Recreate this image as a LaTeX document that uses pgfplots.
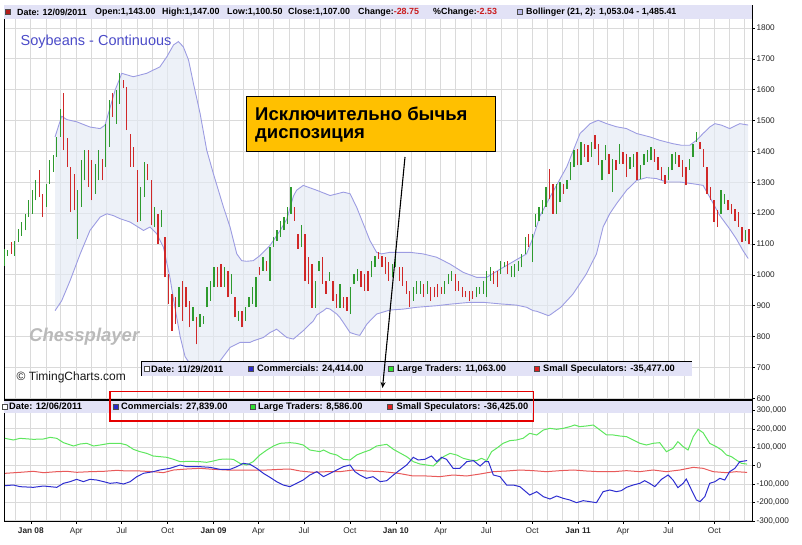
\documentclass[border=0pt]{standalone}
\usepackage{fontspec}
\setmainfont{Liberation Sans}
\usepackage{pgfplots}
\pgfplotsset{compat=1.18}
\usepackage{pgfplotstable}
\usepgfplotslibrary{fillbetween}
\usetikzlibrary{arrows.meta}
\newcommand{\fs}[1]{\fontsize{#1}{#1}\selectfont}
\definecolor{strip}{HTML}{E2E2F6}
\definecolor{gridc}{HTML}{DADADA}
\definecolor{barup}{HTML}{2E9A2E}
\definecolor{bardn}{HTML}{D02828}
\definecolor{bandline}{HTML}{9C9CE2}
\definecolor{bandfill}{HTML}{E4EAF4}
\definecolor{lgreen}{HTML}{5EE65E}
\definecolor{lblue}{HTML}{2E2ED0}
\definecolor{lred}{HTML}{E85A5A}
\definecolor{titleblue}{HTML}{4B4BC8}
\definecolor{annoyellow}{HTML}{FFC000}
\definecolor{sqblue}{HTML}{2828C8}
\definecolor{sqgreen}{HTML}{30E030}
\definecolor{sqred}{HTML}{E02020}

% weekly bars: k = week index (k=0 : 9 Nov 2007, k=213 : 9 Dec 2011)
\pgfplotstableread{
k lo hi
0 1030 1084
1 1062 1081
3 1062 1111
4 1106 1149
5 1127 1171
6 1144 1198
7 1187 1241
8 1198 1274
9 1241 1306
12 1220 1295
13 1295 1371
14 1333 1387
15 1382 1447
16 1447 1539
21 1117 1274
22 1220 1371
23 1306 1404
26 1263 1360
27 1306 1404
29 1349 1490
30 1414 1566
32 1490 1599
33 1555 1653
39 1176 1285
40 1252 1366
43 1155 1220
45 1155 1209
50 895 960
54 851 895
56 830 873
57 840 868
58 895 960
59 916 981
60 960 1025
63 960 1025
65 938 1003
67 851 884
69 851 895
70 895 927
71 905 960
72 895 992
74 1014 1057
76 981 1090
77 1090 1122
78 1111 1144
79 1122 1176
80 1144 1187
81 1165 1220
82 1198 1285
85 1090 1160
89 894 981
90 1014 1046
93 981 1008
96 894 970
99 873 960
100 970 1003
101 981 1019
105 992 1046
106 1025 1062
111 992 1035
112 1024 1079
117 916 960
118 938 981
119 938 981
121 938 981
126 938 981
127 970 1003
128 981 1014
135 927 960
136 938 960
137 938 981
138 927 1014
139 981 1024
142 1003 1046
143 1024 1041
145 992 1030
146 992 1035
147 1014 1046
148 1024 1068
149 1068 1122
151 1041 1133
152 1155 1198
153 1176 1220
154 1198 1241
155 1220 1284
158 1198 1295
159 1236 1301
161 1279 1306
162 1306 1366
163 1349 1404
165 1355 1431
168 1382 1431
171 1306 1371
172 1371 1420
174 1268 1377
176 1360 1425
179 1344 1382
180 1349 1393
182 1312 1355
183 1355 1393
184 1366 1404
185 1371 1414
190 1306 1349
191 1339 1393
192 1360 1398
196 1339 1377
197 1382 1425
198 1431 1463
205 1198 1274
206 1230 1263
212 1111 1144
}\upbars
\pgfplotstableread{
k lo hi
2 1068 1106
10 1252 1339
11 1187 1263
17 1404 1588
18 1349 1442
19 1203 1349
20 1209 1328
24 1284 1404
25 1241 1371
28 1306 1377
31 1512 1588
34 1604 1631
35 1469 1609
36 1349 1458
37 1349 1414
38 1171 1339
41 1306 1360
42 1160 1306
44 1100 1198
46 992 1122
47 905 1003
48 819 938
49 840 927
51 851 981
52 895 960
53 830 916
55 775 862
61 960 1025
62 960 1035
64 927 1014
66 862 927
68 830 884
73 998 1025
75 1014 1046
83 1176 1220
84 1084 1133
86 981 1133
87 970 1057
88 894 1035
91 970 1057
92 938 981
94 916 981
95 894 938
97 894 927
98 884 927
102 960 1014
103 949 1003
104 949 1014
107 1052 1073
108 1025 1062
109 1003 1057
110 981 1041
113 981 1024
114 965 1024
115 938 981
116 895 949
120 927 970
122 916 960
123 927 960
124 927 970
125 938 960
129 949 1003
130 949 981
131 927 960
132 927 949
133 916 949
134 922 949
140 970 1014
141 960 1014
144 1003 1046
150 1090 1133
156 1247 1344
157 1198 1295
160 1263 1295
164 1355 1409
166 1382 1425
167 1366 1420
169 1409 1452
170 1355 1425
173 1328 1393
175 1339 1371
177 1360 1398
178 1317 1393
181 1306 1398
186 1366 1409
187 1339 1382
188 1306 1349
189 1295 1322
193 1349 1387
194 1317 1371
195 1290 1349
199 1409 1431
200 1349 1409
201 1263 1349
202 1241 1285
203 1171 1241
204 1155 1209
207 1209 1241
208 1198 1230
209 1176 1214
210 1155 1203
211 1106 1155
213 1100.5 1147
}\dnbars

\def\months{3.143,7.571,12,16.143,20.571,24.857,29.286,33.571,38,42.429,46.714,51.143,55.429,59.857,64.286,68.286,72.714,77,81.429,85.714,90.143,94.571,98.857,103.286,107.571,112,116.429,120.429,124.857,129.143,133.571,137.857,142.286,146.714,151,155.429,159.714,164.143,168.571,172.571,177,181.286,185.714,190,194.429,198.857,203.143,207.571,211.857}

\begin{document}
\begin{tikzpicture}[x=1pt,y=1pt]

% ---------------- price panel ----------------
\begin{axis}[
  at={(4pt,145pt)}, anchor=south west, scale only axis,
  width=748pt, height=395pt,
  xmin=-0.1, xmax=213.9, ymin=594.5, ymax=1874.5,
  axis line style={black, line width=0.8pt},
  tick align=outside, major tick length=3pt,
  xtick/.expanded={\months}, xticklabels={}, xtick style={draw=none},
  ytick={600,700,...,1800},
  yticklabels={600,700,800,900,1000,1100,1200,1300,1400,1500,1600,1700,1800},
  ytick pos=right, yticklabel pos=right,
  ytick style={black, line width=0.6pt},
  yticklabel style={font=\fs{8.2}, text=black!85, xshift=-2pt},
  xmajorgrids, ymajorgrids, grid style={gridc, line width=0.9pt},
]
\addplot[draw=none, name path=bbup] coordinates {
(14.5,1447) (16.4,1514) (17.9,1503) (20.7,1496) (24.5,1479) (27.4,1474) (28.8,1485)
(30.3,1544) (31.7,1599) (33.6,1653) (36.9,1642) (40.7,1653) (44.5,1674) (46.5,1707)
(48.4,1745) (49.8,1756) (51.2,1739) (52.7,1696) (54.1,1620) (56.0,1523) (57.9,1404)
(59.8,1328) (62.7,1219) (64.6,1154) (66.5,1068) (67.9,1046) (69.3,1044) (71.2,1046)
(73.1,1062) (76,1095) (78.9,1144) (80.8,1180) (82.7,1255) (83.6,1274) (85.5,1290)
(89.4,1274) (93.2,1257) (97,1268) (98.9,1263) (100.8,1219) (102.7,1165) (104.6,1111)
(106.5,1073) (107.9,1068) (110.3,1073) (112.2,1073) (116,1073) (119.8,1068)
(123.7,1057) (127.5,1035) (131.3,1008) (135.1,992) (138,992) (141.8,1018)
(146.5,1049) (149.4,1068) (151.3,1122) (153.2,1190) (156.1,1252) (160.9,1350)
(164.7,1458) (167.6,1490) (169.9,1501) (172.3,1490) (175.1,1480) (178,1474)
(180.9,1458) (184.7,1447) (187.5,1436) (191.3,1425) (193.7,1420) (196.1,1420)
(198,1436) (199.9,1458) (201.8,1479) (203.3,1490) (205.2,1485) (207.5,1474)
(210.4,1490) (212.8,1485.41)};
\addplot[draw=none, name path=bblo] coordinates {
(14.5,884) (16.4,916) (18.8,981) (21.7,1068) (24.5,1144) (27.4,1187) (29.3,1198)
(31.2,1192) (33.1,1182) (36,1171) (39.8,1144) (41.7,1155) (43.6,1133) (45.5,1090)
(47.4,990) (48.4,920) (50.3,800) (51.7,735) (53.5,705) (55.5,688) (57.5,685)
(59.5,700) (61.7,721) (64.6,765) (67.4,781) (70.3,781) (71.2,786) (74.1,797)
(76,813) (77.9,824) (80.8,797) (82.7,792) (85.5,819) (88.4,851) (89.4,870)
(91.3,884) (92.2,892) (93.2,889) (95.1,873) (96,862) (97.9,830) (98.9,813)
(100.8,806) (101.7,804) (103.7,840) (104.6,851) (106.5,873) (110.3,886) (114.1,889)
(118,895) (123.7,900) (127.5,905) (133.2,911) (137,911) (141.8,906) (146.5,902)
(149.4,895) (151.3,884) (152.3,882) (155.6,868) (156.1,870) (159.2,895) (162.7,938)
(166.5,1003) (169.4,1068) (171.3,1155) (173.2,1198) (175.1,1230) (178,1274)
(180.9,1306) (183.7,1315) (186.6,1312) (189.4,1301) (193.2,1301) (197.1,1295)
(199.9,1290) (201.8,1252) (204.7,1192) (207.5,1149) (209.4,1117) (211.3,1079)
(212.8,1053.04)};
\addplot[fill=bandfill, fill opacity=0.65, draw=none] fill between[of=bbup and bblo];
\addplot[bandline, line width=0.9pt] coordinates {
(14.5,1447) (16.4,1514) (17.9,1503) (20.7,1496) (24.5,1479) (27.4,1474) (28.8,1485)
(30.3,1544) (31.7,1599) (33.6,1653) (36.9,1642) (40.7,1653) (44.5,1674) (46.5,1707)
(48.4,1745) (49.8,1756) (51.2,1739) (52.7,1696) (54.1,1620) (56.0,1523) (57.9,1404)
(59.8,1328) (62.7,1219) (64.6,1154) (66.5,1068) (67.9,1046) (69.3,1044) (71.2,1046)
(73.1,1062) (76,1095) (78.9,1144) (80.8,1180) (82.7,1255) (83.6,1274) (85.5,1290)
(89.4,1274) (93.2,1257) (97,1268) (98.9,1263) (100.8,1219) (102.7,1165) (104.6,1111)
(106.5,1073) (107.9,1068) (110.3,1073) (112.2,1073) (116,1073) (119.8,1068)
(123.7,1057) (127.5,1035) (131.3,1008) (135.1,992) (138,992) (141.8,1018)
(146.5,1049) (149.4,1068) (151.3,1122) (153.2,1190) (156.1,1252) (160.9,1350)
(164.7,1458) (167.6,1490) (169.9,1501) (172.3,1490) (175.1,1480) (178,1474)
(180.9,1458) (184.7,1447) (187.5,1436) (191.3,1425) (193.7,1420) (196.1,1420)
(198,1436) (199.9,1458) (201.8,1479) (203.3,1490) (205.2,1485) (207.5,1474)
(210.4,1490) (212.8,1485.41)};
\addplot[bandline, line width=0.9pt] coordinates {
(14.5,884) (16.4,916) (18.8,981) (21.7,1068) (24.5,1144) (27.4,1187) (29.3,1198)
(31.2,1192) (33.1,1182) (36,1171) (39.8,1144) (41.7,1155) (43.6,1133) (45.5,1090)
(47.4,990) (48.4,920) (50.3,800) (51.7,735) (53.5,705) (55.5,688) (57.5,685)
(59.5,700) (61.7,721) (64.6,765) (67.4,781) (70.3,781) (71.2,786) (74.1,797)
(76,813) (77.9,824) (80.8,797) (82.7,792) (85.5,819) (88.4,851) (89.4,870)
(91.3,884) (92.2,892) (93.2,889) (95.1,873) (96,862) (97.9,830) (98.9,813)
(100.8,806) (101.7,804) (103.7,840) (104.6,851) (106.5,873) (110.3,886) (114.1,889)
(118,895) (123.7,900) (127.5,905) (133.2,911) (137,911) (141.8,906) (146.5,902)
(149.4,895) (151.3,884) (152.3,882) (155.6,868) (156.1,870) (159.2,895) (162.7,938)
(166.5,1003) (169.4,1068) (171.3,1155) (173.2,1198) (175.1,1230) (178,1274)
(180.9,1306) (183.7,1315) (186.6,1312) (189.4,1301) (193.2,1301) (197.1,1295)
(199.9,1290) (201.8,1252) (204.7,1192) (207.5,1149) (209.4,1117) (211.3,1079)
(212.8,1053.04)};
\addplot[draw=none, mark=none,
  error bars/.cd, y dir=plus, y explicit, error mark=none,
  error bar style={draw=barup, line width=1.3pt}]
  table[x=k, y=lo, y error expr=\thisrow{hi}-\thisrow{lo}] {\upbars};
\addplot[draw=none, mark=none,
  error bars/.cd, y dir=plus, y explicit, error mark=none,
  error bar style={draw=bardn, line width=1.3pt}]
  table[x=k, y=lo, y error expr=\thisrow{hi}-\thisrow{lo}] {\dnbars};
\end{axis}

% ---------------- COT panel ----------------
\begin{axis}[
  at={(4pt,24pt)}, anchor=south west, scale only axis,
  width=748pt, height=121pt,
  xmin=-0.1, xmax=213.9, ymin=-300600, ymax=357100,
  axis line style={black, line width=0.8pt},
  tick align=outside, major tick length=3pt, minor tick length=0pt,
  xtick={7.571,20.571,33.571,46.714,59.857,72.714,85.714,98.857,112,124.857,137.857,151,164.143,177,190,203.143},
  xticklabels={\textbf{Jan 08},Apr,Jul,Oct,\textbf{Jan 09},Apr,Jul,Oct,\textbf{Jan 10},Apr,Jul,Oct,\textbf{Jan 11},Apr,Jul,Oct},
  minor xtick/.expanded={\months},
  xtick pos=left, ytick pos=right, yticklabel pos=right,
  ytick={-300000,-200000,-100000,0,100000,200000,300000},
  yticklabels={{-300,000},{-200,000},{-100,000},0,{100,000},{200,000},{300,000}},
  scaled y ticks=false,
  tick style={black, line width=0.6pt},
  xticklabel style={font=\fs{8.3}, text=black!85},
  yticklabel style={font=\fs{8.2}, text=black!85, xshift=-2pt},
  xmajorgrids, xminorgrids, ymajorgrids,
  grid style={gridc, line width=0.9pt}, minor grid style={gridc, line width=0.9pt},
]
\addplot[lgreen, line width=1pt] coordinates {
(0.2,148700) (2.6,139700) (4.5,148700) (8.3,143300) (11.2,145100) (13.1,154200) (15,148700)
(16.9,125200) (19.8,107100) (21.7,117900) (23.6,121600) (25.5,107100) (27.4,112500)
(30.2,121600) (33.1,121600) (35,112500) (36.9,89000) (38.8,76300) (40.7,67200)
(42.6,52700) (44.5,49100) (46.5,45500) (48.4,34600) (50.3,21900) (53.1,23700) (56,21900)
(57.9,18300) (59.8,25500) (61.7,34600) (63.6,36400) (65.5,34600) (67.4,12800) (69.3,3800)
(71.2,21900) (73.1,58100) (75.1,85300) (77,107100) (78.9,121600) (81.7,125200)
(83.6,121600) (85.5,112500) (87.4,85300) (90.3,76300) (91.3,85300) (93.2,67200)
(95.1,58100) (97,34600) (98.9,31000) (100.8,58100) (102.7,72600) (104.6,85300)
(106.5,107100) (109.4,116100) (111.3,89000) (113.2,69000) (115.1,49100) (117,21900)
(118.9,9200) (120.8,3800) (122.7,-1700) (124.1,21900) (125.6,49100) (127.5,67200)
(129.4,58100) (131.3,40000) (133.2,31000) (135.1,27300) (136.5,40000) (138,27300)
(139.4,76300) (140.8,94400) (142.7,121600) (144.6,136100) (146.5,139700) (148.4,148700)
(150.3,175900) (152.3,166900) (154.2,194000) (156.1,203100) (158,197700) (159.9,203100)
(161.8,212200) (163.2,221200) (164.6,212200) (166.5,215800) (168.5,221200) (170.4,194000)
(172.3,166900) (174.2,166900) (176.1,161400) (178,157800) (179.9,139700) (181.8,121600)
(183.7,112500) (185.6,121600) (187.5,125200) (189.4,76300) (191.3,94400) (192.7,130600)
(194.2,103400) (195.6,85300) (197.1,157800) (198.5,197700) (199.9,179500) (201.8,121600)
(203.7,103400) (205.2,85300) (206.6,58100) (208,49100) (209.4,31000) (210.9,12800)
(212.5,8586)};
\addplot[lred, line width=1pt] coordinates {
(0.2,-41500) (4.5,-36000) (8.3,-30600) (11.2,-37900) (15,-32500) (17.9,-30600)
(20.7,-36000) (24.5,-32500) (28.4,-30600) (32.2,-25200) (35,-28800) (38.8,-28800)
(42.6,-32500) (45.5,-37900) (48.4,-23400) (52.2,-18000) (56,-14300) (59.8,-19800)
(63.6,-23400) (67.4,-23400) (71.2,-23400) (75.1,-23400) (78.9,-19800) (81.7,-18000)
(84.6,-28800) (88.4,-36000) (92.2,-32500) (96,-32500) (99.8,-23400) (103.6,-28800)
(108.4,-32500) (112.7,-41500) (117,-56000) (120.8,-56000) (124.6,-59600) (128.4,-50600)
(132.3,-56000) (136.1,-45100) (139.9,-32500) (143.7,-28800) (147.5,-23400) (151.3,-27000)
(155.1,-32500) (159,-27000) (162.8,-23400) (166.5,-28800) (170.4,-32500) (174.2,-32500)
(178,-27000) (181.8,-32500) (185.6,-23400) (189.4,-32500) (193.3,-23400) (197.1,-8900)
(199.9,-14300) (202.8,-32500) (206.6,-37900) (209.4,-32500) (212.5,-36425)};
\addplot[lblue, line width=1pt] coordinates {
(0.2,-108600) (2.6,-105000) (4.5,-114000) (8.3,-117600) (11.2,-110400) (13.1,-114000)
(15,-117600) (16.9,-95900) (18.8,-86800) (20.7,-74100) (22.6,-86800) (24.5,-74100)
(26.4,-77800) (28.4,-86800) (30.2,-95900) (32.2,-92300) (34.1,-99500) (36,-86800)
(37.9,-59600) (39.8,-41500) (42.6,-32500) (44.5,-23400) (47.4,-14300) (50.3,3800)
(52.2,-5300) (54.1,-5300) (56,-5300) (58.8,-8900) (61.7,-19800) (64.6,-19800)
(66.5,-5300) (68.4,12800) (70.3,7400) (72.2,-14300) (74.1,-41500) (76,-63300)
(77.9,-86800) (79.8,-105000) (81.7,-114000) (83.6,-95900) (85.5,-77800) (87.4,-50600)
(89.4,-32500) (91.3,-59600) (93.2,-41500) (95.1,-23400) (97,-5300) (98.9,3800)
(100.3,-32500) (101.7,-50600) (103.6,-68700) (105.5,-59600) (107.5,-86800) (109.4,-81400)
(111.3,-50600) (112.7,-30000) (115.1,3800) (117,45500) (118.4,31000) (120.3,34600)
(122.2,52700) (123.7,21900) (125.1,45500) (126.5,34600) (128.4,-14300) (130.3,-14300)
(132.3,21900) (134.2,27300) (136.1,-1700) (137.5,21900) (138.5,21900) (139.9,-50600)
(141.8,-59600) (143.7,-105000) (145.6,-105000) (147.5,-114000) (150.3,-159300)
(152.3,-141200) (154.2,-168400) (156.1,-181000) (158,-164700) (159.9,-177400)
(161.8,-186500) (163.7,-201000) (165.6,-190100) (167.5,-195500) (169.4,-201000)
(171.3,-141200) (173.2,-132100) (175.1,-141200) (176.5,-135700) (178,-117600)
(179.9,-105000) (181.8,-95900) (183.2,-81400) (184.6,-95900) (186.1,-114000)
(188,-74100) (189.9,-50600) (191.3,-77800) (192.7,-119400) (194.2,-95900) (195.1,-72300)
(196.6,-132100) (198,-186500) (199,-195500) (200.4,-168400) (201.8,-95900) (203.3,-86800)
(204.7,-68700) (206.1,-77800) (207.5,-32500) (209,-14300) (210.4,21900) (212.5,27839)};
\end{axis}

% ---------------- header strip (top) ----------------
\fill[strip] (4.4,525.5) rectangle (751.6,539.6);
\begin{scope}[every node/.style={inner sep=0pt, anchor=west, font=\fs{8.9}\bfseries, text=black}]
\filldraw[fill=sqred!80!black, draw=black!70, line width=0.4pt] (5.5,530.5) rectangle (10.5,535.5);
\node at (17,533) {Date: 12/09/2011};
\node at (95,533) {Open:1,143.00};
\node at (162,533) {High:1,147.00};
\node at (227,533) {Low:1,100.50};
\node at (288,533) {Close:1,107.00};
\node at (358,533) {Change:\textcolor{sqred!90!black}{-28.75}};
\node at (433,533) {\%Change:\textcolor{sqred!90!black}{-2.53}};
\filldraw[fill=bandline!70, draw=black!70, line width=0.4pt] (517.5,530.5) rectangle (522.5,535.5);
\node at (526,533) {Bollinger (21, 2): 1,053.04 - 1,485.41};
\end{scope}

% title, watermark, copyright
\node[inner sep=0pt, anchor=west, font=\fs{14.5}, text=titleblue] at (20.5,503) {Soybeans - Continuous};
\node[inner sep=0pt, anchor=west, font=\fs{18.5}\bfseries\itshape, text=black!27] at (29,208.5) {Chessplayer};
\node[inner sep=0pt, anchor=west, font=\fs{12}, text=black!90] at (16.5,167.5) {© TimingCharts.com};

% ---------------- inner legend strip (11/29/2011) ----------------
\fill[strip] (141.5,169) rectangle (692,183.5);
\draw[black, line width=1.6pt] (141.5,183.5) -- (692,183.5);
\draw[black, line width=1pt] (141.5,169) -- (141.5,184.3);
\begin{scope}[every node/.style={inner sep=0pt, anchor=west, font=\fs{9.3}\bfseries, text=black}]
\filldraw[fill=white, draw=black!70, line width=0.4pt] (144.5,173.5) rectangle (149.5,178.5);
\node at (151,176) {Date: 11/29/2011};
\filldraw[fill=sqblue, draw=black!70, line width=0.4pt] (248.5,173.5) rectangle (253.5,178.5);
\node at (257,176) {Commercials: 24,414.00};
\filldraw[fill=sqgreen, draw=black!70, line width=0.4pt] (388.5,173.5) rectangle (393.5,178.5);
\node at (397,176) {Large Traders: 11,063.00};
\filldraw[fill=sqred, draw=black!70, line width=0.4pt] (534.5,173.5) rectangle (539.5,178.5);
\node at (543,176) {Small Speculators: -35,477.00};
\end{scope}

% ---------------- lower panel strip (12/06/2011) ----------------
\fill[strip] (4.4,131.5) rectangle (751.6,145);
\draw[black, line width=1.8pt] (4,145) -- (752,145);
\begin{scope}[every node/.style={inner sep=0pt, anchor=west, font=\fs{9.3}\bfseries, text=black}]
\filldraw[fill=white, draw=black!70, line width=0.4pt] (2.5,135.8) rectangle (7.5,140.8);
\node at (9,138.3) {Date: 12/06/2011};
\filldraw[fill=sqblue, draw=black!70, line width=0.4pt] (113.5,135.8) rectangle (118.5,140.8);
\node at (121,138.3) {Commercials: 27,839.00};
\filldraw[fill=sqgreen, draw=black!70, line width=0.4pt] (250,135.8) rectangle (255,140.8);
\node at (258,138.3) {Large Traders: 8,586.00};
\filldraw[fill=sqred, draw=black!70, line width=0.4pt] (387.5,135.8) rectangle (392.5,140.8);
\node at (396.5,138.3) {Small Speculators: -36,425.00};
\end{scope}

% red frame
\draw[red!90!black, line width=1.6pt] (110,124) rectangle (533.3,153.3);

% yellow annotation and arrow
\filldraw[fill=annoyellow, draw=black, line width=1.2pt] (246.7,393.3) rectangle (495.7,448.3);
\node[inner sep=0pt, anchor=west, font=\fs{18.5}\bfseries] at (255,431.5) {Исключительно бычья};
\node[inner sep=0pt, anchor=west, font=\fs{18.5}\bfseries] at (255,410) {диспозиция};
\draw[black, line width=1.1pt, -{Stealth[length=6pt,width=5pt]}] (405,388) -- (382.5,157);

\pgfresetboundingbox
\useasboundingbox (0,0) rectangle (802,545);
\end{tikzpicture}
\end{document}
